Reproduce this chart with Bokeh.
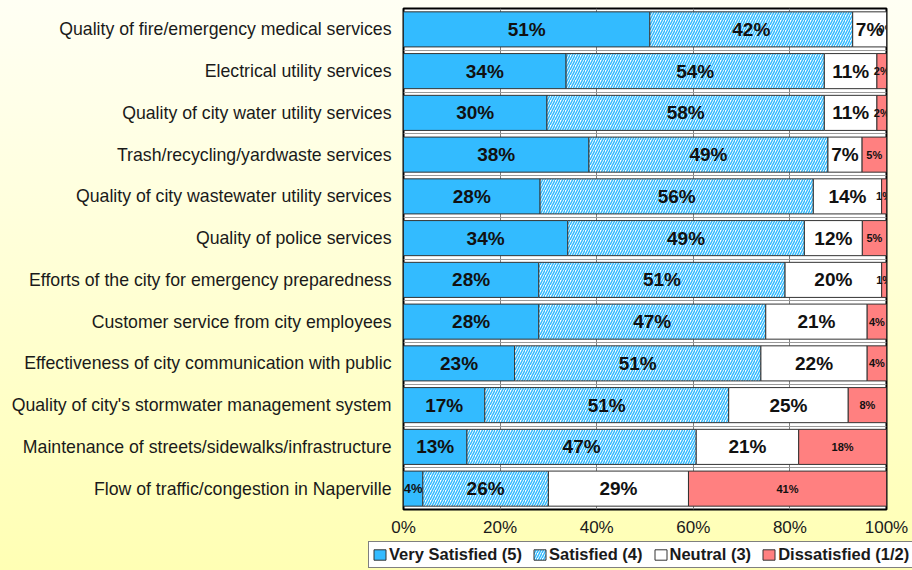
import numpy as np
from bokeh.plotting import figure
from bokeh.layouts import column
from bokeh.models import (ColumnDataSource, Range1d, FixedTicker, PrintfTickFormatter,
                          Legend, LegendItem)
from bokeh.core.properties import value
from bokeh.embed import file_html
from bokeh.resources import INLINE

categories = [
    "Quality of fire/emergency medical services",
    "Electrical utility services",
    "Quality of city water utility services",
    "Trash/recycling/yardwaste services",
    "Quality of city wastewater utility services",
    "Quality of police services",
    "Efforts of the city for emergency preparedness",
    "Customer service from city employees",
    "Effectiveness of city communication with public",
    "Quality of city's stormwater management system",
    "Maintenance of streets/sidewalks/infrastructure",
    "Flow of traffic/congestion in Naperville",
]
very_satisfied = [51, 34, 30, 38, 28, 34, 28, 28, 23, 17, 13, 4]
satisfied = [42, 54, 58, 49, 56, 49, 51, 47, 51, 51, 47, 26]
neutral = [7, 11, 11, 7, 14, 12, 20, 21, 22, 25, 21, 29]
dissatisfied = [0, 2, 2, 5, 1, 5, 1, 4, 4, 8, 18, 41]
series_names = ["Very Satisfied (5)", "Satisfied (4)", "Neutral (3)", "Dissatisfied (1/2)"]
x_ticks = [0, 20, 40, 60, 80, 100]

FONT = "Liberation Sans"
n = len(categories)
ypos = [n - 1 - i for i in range(n)]
data = np.array([very_satisfied, satisfied, neutral, dissatisfied], dtype=float)
shares = data / data.sum(axis=0) * 100.0
rights = np.cumsum(shares, axis=0)
lefts = rights - shares

p = figure(width=912, height=540, x_range=Range1d(0, 100), y_range=Range1d(-0.5, n - 0.5),
           output_backend="svg", toolbar_location=None,
           min_border_left=403, min_border_right=26, min_border_top=8, min_border_bottom=31)
p.frame_align = False
p.background_fill_color = "white"
p.border_fill_color = None
p.outline_line_color = "black"
p.outline_line_width = 2

p.xgrid.ticker = FixedTicker(ticks=[20, 40, 60, 80])
p.xgrid.grid_line_color = "#808080"
p.ygrid.ticker = FixedTicker(ticks=[i + 0.5 for i in range(-1, n)])
p.ygrid.grid_line_color = "#9a9a9a"

p.yaxis.ticker = FixedTicker(ticks=ypos)
p.yaxis.major_label_overrides = {y: c for y, c in zip(ypos, categories)}
p.yaxis.axis_line_color = None
p.yaxis.major_tick_line_color = None
p.yaxis.major_tick_out = 0
p.yaxis.major_tick_in = 0
p.yaxis.minor_tick_line_color = None
p.yaxis.major_label_text_font = FONT
p.yaxis.major_label_text_font_size = "17.7px"
p.yaxis.major_label_text_color = "#1a1a1a"
p.yaxis.major_label_standoff = 12

p.xaxis.ticker = FixedTicker(ticks=x_ticks)
p.xaxis.formatter = PrintfTickFormatter(format="%d%%")
p.xaxis.axis_line_color = None
p.xaxis.major_tick_line_color = None
p.xaxis.major_tick_out = 0
p.xaxis.major_tick_in = 0
p.xaxis.minor_tick_line_color = None
p.xaxis.major_label_text_font = FONT
p.xaxis.major_label_text_font_size = "17px"
p.xaxis.major_label_text_color = "#1a1a1a"
p.xaxis.major_label_standoff = 8

# small figure that only holds the legend, below the chart
pl = figure(width=912, height=30, x_range=Range1d(0, 1), y_range=Range1d(0, 1),
            output_backend="svg", toolbar_location=None, min_border=0)
pl.frame_align = False
pl.axis.visible = False
pl.grid.visible = False
pl.outline_line_color = None
pl.background_fill_color = None
pl.border_fill_color = None

fills = ["#33BBFF", "white", "white", "#FF8080"]
items = []
for k, name in enumerate(series_names):
    vals = data[k]
    sizes = []
    for v in vals:
        if k == 3:
            sizes.append("11px")
        elif v < 5:
            sizes.append("13px")
        else:
            sizes.append("19px")
    src = ColumnDataSource(dict(
        y=ypos, left=lefts[k], right=rights[k],
        xm=(lefts[k] + rights[k]) / 2.0,
        label=[f"{int(v)}%" for v in vals], fs=sizes))
    kw = dict(fill_color=fills[k], line_color="#333333", line_width=1)
    if k == 1:
        kw.update(hatch_pattern="right_diagonal_line", hatch_color="#33BBFF",
                  hatch_scale=5, hatch_weight=1.5)
    p.hbar(y="y", left="left", right="right", height=0.84, source=src, **kw)
    p.text(x="xm", y="y", text="label", source=src, text_font=value(FONT),
           text_font_style="bold", text_font_size="fs", text_align="center",
           text_baseline="middle", text_color="#111111")
    # legend proxy (outside the visible range of the legend figure)
    r = pl.hbar(y=[-10], left=[0], right=[1], height=0.5, **kw)
    items.append(LegendItem(label=name, renderers=[r]))

legend = Legend(items=items, orientation="horizontal", location=(368, 2),
                border_line_color="black", border_line_width=1,
                background_fill_color="white", background_fill_alpha=1,
                padding=3, spacing=10, margin=0, glyph_width=15, glyph_height=13,
                label_standoff=2, label_height=18, label_text_font=FONT,
                label_text_font_size="16.5px",
                label_text_font_style="bold", label_text_color="#1a1a1a")
pl.add_layout(legend)

layout = column(p, pl, spacing=0)
layout.styles = {"background": "linear-gradient(to bottom, #FFFFF4, #FFFFB4)"}

open("out.html", "w").write(file_html(layout, INLINE))
